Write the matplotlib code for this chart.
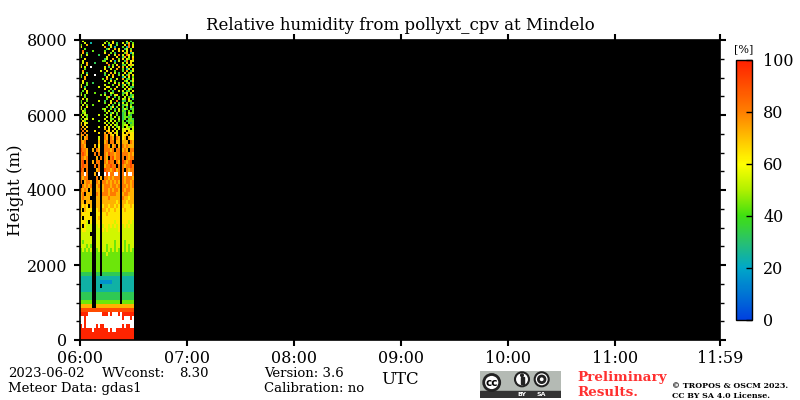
import numpy as np
import matplotlib
matplotlib.use("Agg")
import matplotlib.pyplot as plt
from matplotlib.colors import LinearSegmentedColormap
from matplotlib.patches import Circle, Rectangle

plt.rcParams['font.family'] = ['DejaVu Serif']

# RH codes: . no data, w over range (white), digits = tens of percent, a = saturated
code_values = {'.': np.nan, 'w': 120, 'a': 99, '0': 5, '1': 16, '2': 24, '3': 33, '4': 44,
               '5': 54, '6': 64, '7': 72, '8': 81, '9': 91}

# top row first. upper part is the noisy region (thin rows)
rh_rows_upper = [
    ".5.. .... .... .4.. 6... . ..5.3.",
    "..5. .2.. .... 5.4. 6.3. . 5.37.4",
    "4..7 .... ...5 ..26 ..4. . .6.8.5",
    "6... .... .... 7..5 .2.. . 4.28.6",
    "..4. .... .... .35. .7.6 . .35.4.",
    ".8.. ..4. .... 4... 5..6 . 6.5.7.",
    ".7.3 .... .... 6..4 .3.. . .47.25",
    "5..5 .... .3.. ..7. .5.8 . 5.86.4",
    "4... .... .... .5.. ..6. . 37.5.6",
    "..6. .... .... 35.. 7..4 . 6.54.7",
    ".5.. .... ...4 4..6 .2.5 . .38.65",
    ".5.7 ...3 .... .7.. .4.. . 5.5.6.",
    "4..7 .... .... ..8. 4.6. . 34.675",
    "6.5. .w.. .... 5.3. 5..7 . 7.6.4.",
    "..4. .... .... 6..5 ..7. . 4.25.6",
    ".7.. .... ..5. .6.. .4.. . 4.7.35",
    ".5.3 .... .... 4..7 .5.3 . .6.45.",
    "4..6 ...w .... 3.5. 7..4 . 5.37.6",
    "4.7. .... .... .6.. 6... . 25.6.4",
    "..7. .... ...4 .7.3 ..5. . 7.34.5",
    ".6.. .... .... 5..6 .4.. . .45.36",
    ".5.4 ..3. .... ..4. .6.4 . 6.35.4",
    "5..4 .... .... 5... 4..7 . 36.4.5",
    "6.3. .... .5.. .56. ..5. . 4.5.33",
    "..5. .... .... 6..4 .7.. . .5.64.",
    ".4.6 .... .... ..4. 3..5 . 5.34.6",
    "4..5 ...4 .... 3..5 4... . 346.5.",
    "5.4. .... ..4. 5..3 .56. . 4.5.34",
    "..4. .... .... .47. .3.4 . .5.435",
    ".6.5 .... .... .4.. 5..4 . 54.6.3",
    "4..4 .... .5.. 3..5 ..8. . 33.54.",
    "4.5. .... .... 4..6 .4.3 . 5.4.34",
    ".5.4 ..4. .... ..5. 3..5 . 345.4.",
    "5..6 .... .... .4.3 6.4. . 4.3.53",
    "5.4. .... ...4 5..4 .3.5 . 354.34",
    ".54. .... .... 4.5. .4.5 . 43.4.4",
    ".45. .... .... .5.3 5.4. . 34.544",
    "5.54 .... .5.. 4..5 ..4. . 34.43.",
    ".5.4 .... .... .5.4 .5.4 . 34434.",
    "4.55 ..5. .... 5..4 4..5 . 34.443",
    ".64. .... .4.. .5.5 .5.4 . 4.3444",
    "6.65 .... .... 5.4. 5.4. . 44.434",
    "7.6. .... .... .6.5 .54. . 455.44",
    ".7.6 .... .5.. 6.5. 5.45 . 4.5445",
    "8.7. .... .... 7.6. .6.5 . 5655.5",
    ".8.7 ...6 .... .76. 6.5. . 56.655",
    "8.8. .... .6.. 7.86 .75. . 6.6766",
    "78.7 .... .... 87.7 6.6. . 667.66",
]
rh_rows_lower = [
    "7.78 .... .5.. 87.8 7.87 . 67.766",
    "878. .... .7.. 78.8 8.77 . 777.87",
    "887. ...7 .6.. 887. 78.7 . 878777",
    "9887 ..7. 87.. 8887 8.88 . 787.88",
    "8987 ...8 .8.. 8798 8788 . 888787",
    "8878 .... 7.8. 87.8 9788 . 8.8788",
    "89.8 ..7. 88.. 8798 8.87 . 98789.",
    "8988 ...8 .8.. 7889 88.8 . 878898",
    "98.8 .... 78.. 9887 8978 . 8.8788",
    "88w8 ...7 .w.. w9w8 8ww8 . 8w8ww8",
    "8788 .... 8.7. 8878 7888 . 878887",
    "8.78 87.. 87.8 8787 8787 . 878878",
    ".878 78.. 78.7 8887 8878 . 887878",
    "8787 .7.. 77.7 8878 7887 . 878877",
    "78.7 77.. 87.8 8878 8877 . 788777",
    "7877 7... 77.7 7787 7777 . 877677",
    "77.7 77.. 77.7 7777 7767 . 776777",
    "7676 .7.. 77.6 7767 7676 . 766676",
    "6.76 66.. 67.7 7676 6766 . 676666",
    "7666 6... 66.6 6766 6666 . 666666",
    "6.66 66.. 67.6 6666 6666 . 666666",
    "6665 .6.. 66.6 6666 6566 . 666565",
    "6.65 55.. 56.5 6656 5656 . 565655",
    "5665 55.. 55.6 5655 5556 . 555555",
    "5555 5... 55.5 5555 5555 . 555555",
    "5555 55.. 55.5 5555 5555 . 555555",
    "5455 55.. 55.5 5555 5455 . 545555",
    "5554 54.. 55.5 5455 5455 . 545455",
    "4545 45.. 45.5 5454 5454 . 545454",
    "4444 44.. 44.4 4544 4444 . 444444",
    "4444 44.. 44.4 4444 4444 . 444444",
    "4444 44.. 44.4 4444 4444 . 444444",
    "4444 44.. 44.4 4444 4444 . 444444",
    "4444 44.. 44.4 4444 4444 . 444444",
    "3333 33.. 33.3 3333 3333 . 333333",
    "2222 22.. 2222 2222 2222 . 222222",
    "2222 22.. 2211 1111 2222 . 222222",
    "2222 22.. 22.2 2222 2222 . 222222",
    "2222 22.. 2222 2222 2222 . 222222",
    "3333 33.. 3333 3333 3333 . 333333",
    "3333 33.. 3333 3333 3333 . 333333",
    "4444 44.. 4444 4444 4444 . 444444",
    "7777 77.. 7777 7777 7777 7 777777",
    "9999 9999 9999 9999 9999 9 999999",
    "aaaa wwww wwwa aawa wwwa w aaaaaa",
    "wwaw wwww wwww wwww wwww w awwwaw",
    "wwaw wwww wwww wwww wwww w wwwwww",
    "awaw wwww awaa wwww wwww w awaaww",
    "aaaa aawa aaaa aawa wwaa a aaaaaa",
    "aaaa aaaa aaaa aaaa aaaa a aaaaaa",
    "aaaa aaaa aaaa aaaa aaaa a aaaaaa",
]

hour_ticks = [6, 7, 8, 9, 10, 11, 11 + 59 / 60]
hour_labels = ["06:00", "07:00", "08:00", "09:00", "10:00", "11:00", "11:59"]
height_ticks = [0, 2000, 4000, 6000, 8000]
rh_ticks = [0, 20, 40, 60, 80, 100]

rh_positions = [0, 0.2, 0.3, 0.4, 0.5, 0.6, 0.7, 0.8, 0.9, 1]
rh_colors = ["#0040e0", "#00a8c8", "#28c070", "#40e010", "#b0f000",
             "#ffff00", "#ffc000", "#ff8000", "#ff5000", "#ff2000"]

rh_rows = rh_rows_upper + rh_rows_lower
rh = np.array([[code_values[c] for c in row.replace(" ", "")] for row in rh_rows])

cmap = LinearSegmentedColormap.from_list("rh", list(zip(rh_positions, rh_colors)))
cmap.set_over("white")
cmap.set_bad("black")

fig = plt.figure(figsize=(8, 4), dpi=100)
ax = fig.add_axes([80 / 800, 60 / 400, 640 / 800, 300 / 400], facecolor="black")

# 27 profiles, each about 2 px wide on the 6 h axis
time_edges = np.linspace(6, 6 + 27 * 2 / 640 * (359 / 60), 28)
split = 8000 - 8000 * 96 / 300
height_edges = np.concatenate([np.linspace(8000, split, len(rh_rows_upper) + 1),
                               np.linspace(split, 0, len(rh_rows_lower) + 1)[1:]])
mesh = ax.pcolormesh(time_edges, height_edges, np.ma.masked_invalid(rh), cmap=cmap, vmin=0, vmax=100)

ax.set_xlim(6, 11 + 59 / 60)
ax.set_ylim(0, 8000)
ax.set_xticks(hour_ticks)
ax.set_xticklabels(hour_labels)
ax.set_yticks(height_ticks)
ax.set_yticks(np.arange(0, 8001, 500), minor=True)
ax.tick_params(which="major", length=4.5, width=1.5, top=True, right=True, labelsize=11.5)
ax.tick_params(axis="x", which="major", pad=2.5)
ax.tick_params(axis="y", which="major", pad=4.5)
ax.tick_params(which="minor", length=3, width=1, right=True)
ax.set_ylabel("Height (m)", fontsize=12, labelpad=2)
ax.set_title("Relative humidity from pollyxt_cpv at Mindelo", fontsize=12, pad=7)
for spine in ax.spines.values():
    spine.set_linewidth(1.2)

cax = fig.add_axes([736 / 800, 80 / 400, 16 / 800, 260 / 400])
cbar = fig.colorbar(mesh, cax=cax, ticks=rh_ticks)
cbar.ax.tick_params(direction="in", length=4, width=1, labelsize=11.5, pad=8)
cbar.outline.set_linewidth(1)
cax.set_title("[%]", fontsize=8, pad=5.5)

fig.text(8 / 800, 1 - 377 / 400, "2023-06-02", fontsize=9.5)
fig.text(102 / 800, 1 - 377 / 400, "WVconst:", fontsize=9.5)
fig.text(179 / 800, 1 - 377 / 400, "8.30", fontsize=9.5)
fig.text(8 / 800, 1 - 392 / 400, "Meteor Data: gdas1", fontsize=9.5)
fig.text(264 / 800, 1 - 377 / 400, "Version: 3.6", fontsize=9.5)
fig.text(264 / 800, 1 - 392 / 400, "Calibration: no", fontsize=9.5)
fig.text(400 / 800, 1 - 384 / 400, "UTC", fontsize=12, ha="center")
fig.text(577 / 800, 1 - 381 / 400, "Preliminary", fontsize=9.7, color="#ff3030", fontweight="bold")
fig.text(577 / 800, 1 - 396 / 400, "Results.", fontsize=9.7, color="#ff3030", fontweight="bold")
fig.text(672 / 800, 1 - 388 / 400, "\u00a9 TROPOS & OSCM 2023.", fontsize=5.7, fontweight="bold")
fig.text(672 / 800, 1 - 398 / 400, "CC BY SA 4.0 License.", fontsize=5.7, fontweight="bold")

# CC licence badge
logo = fig.add_axes([480 / 800, 2 / 400, 81 / 800, 27 / 400])
logo.set_xlim(0, 81)
logo.set_ylim(27, 0)
logo.axis("off")
logo.add_patch(Rectangle((0, 0), 81, 27, color="#b4bab4"))
logo.add_patch(Rectangle((0, 20), 81, 7, color="#333333"))
logo.add_patch(Circle((11.7, 11.5), 8, fc="white", ec="#222222", lw=2))
logo.text(11.7, 11.6, "cc", fontsize=7.5, ha="center", va="center", fontweight="bold", family="DejaVu Sans")
logo.add_patch(Circle((42, 8.3), 7, fc="white", ec="#222222", lw=1.5))
logo.add_patch(Rectangle((40.5, 6), 3, 7, color="#222222"))
logo.add_patch(Circle((42, 4.3), 1.3, color="#222222"))
logo.add_patch(Circle((61.7, 8.3), 7, fc="white", ec="#222222", lw=1.5))
logo.add_patch(Circle((61.7, 8.3), 3.3, fc="white", ec="#222222", lw=2))
logo.text(42, 23.7, "BY", fontsize=4.5, color="white", ha="center", va="center", fontweight="bold", family="DejaVu Sans")
logo.text(61, 23.7, "SA", fontsize=4.5, color="white", ha="center", va="center", fontweight="bold", family="DejaVu Sans")

fig.savefig("out.png", dpi=100)
